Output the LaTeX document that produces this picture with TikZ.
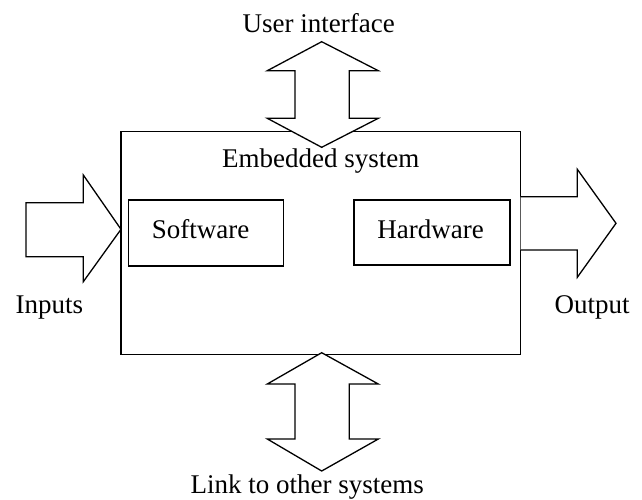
\documentclass[tikz,border=0pt]{standalone}
\usepackage{fontspec}
\setmainfont{Liberation Serif}
\begin{document}
\begin{tikzpicture}[x=1pt,y=-1pt,
  box/.style={draw, line width=1.3pt, inner sep=0pt},
  arr/.style={draw, line width=1.3pt, fill=white, line join=miter},
  lbl/.style={inner sep=0pt, anchor=base, font=\fontsize{27}{30}\selectfont}]
\useasboundingbox (0,0) rectangle (642,499);
% main box
\node[box, minimum width=399.5pt, minimum height=223pt] (sys) at (320.75,243) {};
\node[box, minimum width=155pt, minimum height=66pt] (sw) at (205.8,233) {};
\node[box, minimum width=156pt, minimum height=65pt] (hw) at (432,232.5) {};
% top double arrow
\draw[arr] (321.7,41.7) -- (378.3,70.7) -- (349.3,70.7) -- (349.3,118.3) -- (378.3,118.3)
  -- (321.7,147.3) -- (267.3,118.3) -- (295,118.3) -- (295,70.7) -- (267.3,70.7) -- cycle;
% bottom double arrow
\draw[arr] (321.7,352.7) -- (378.3,384) -- (349.3,384) -- (349.3,439) -- (378.3,439)
  -- (321.7,471) -- (267.3,439) -- (295,439) -- (295,384) -- (267.3,384) -- cycle;
% input arrow
\draw[arr] (26,202.7) -- (83.3,202.7) -- (83.3,175) -- (121,229.3) -- (83.3,281.7)
  -- (83.3,256.7) -- (26,256.7) -- cycle;
% output arrow
\draw[arr] (520.5,196.7) -- (577.3,196.7) -- (577.3,169.3) -- (616,223.3) -- (577.3,277.3)
  -- (577.3,250) -- (520.5,250);
% labels
\node[lbl] (ui) at (318.7,32.3) {User interface};
\node[lbl] (es) at (320.7,167.3) {Embedded system};
\node[lbl] (swl) at (200.7,238.3) {Software};
\node[lbl] (hwl) at (430.7,238.3) {Hardware};
\node[lbl] (in) at (49.5,313) {Inputs};
\node[lbl] (out) at (592,313.3) {Output};
\node[lbl] (lk) at (307.3,493) {Link to other systems};
\end{tikzpicture}
\end{document}
